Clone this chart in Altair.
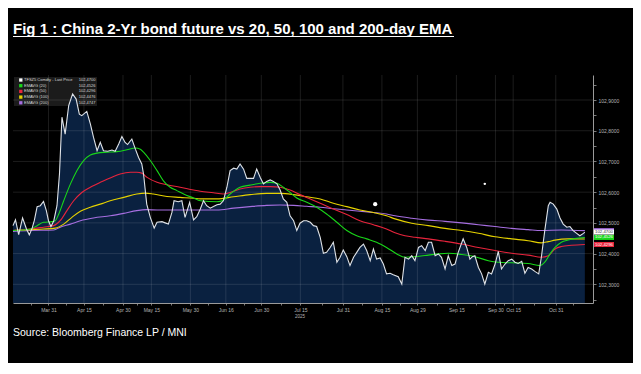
import altair as alt
import pandas as pd

# ---------------- data (x = trading-day index, 0 = 17 Mar 2025) ----------------
price_i = [0, 0.7, 1.6, 2.7, 3.8, 4.6, 5.4, 6.0, 6.8, 7.7, 8.6, 9.4, 10.0, 10.7, 11.5, 12.4,
           13.1, 13.8, 14.7, 15.7, 16.8, 17.8, 18.7, 19.4, 20.8, 21.8, 22.7, 23.7, 24.6, 25.5,
           26.7, 27.9, 28.8, 29.8, 30.7, 31.6, 32.3, 33.5, 34.5, 35.4, 36.3, 36.8, 37.7, 38.7,
           39.8, 40.6, 42.0, 42.9, 43.8, 44.8, 45.4, 46.6, 47.6, 48.5, 49.8, 50.9, 51.8,
           52.8, 53.7, 54.6, 55.6, 56.5, 57.5, 58.4, 59.3, 60.3, 61.2, 62.2, 63.1, 64.0, 65.0,
           65.9, 66.8, 67.8, 68.7, 69.7, 70.6, 71.5, 72.5, 73.4, 74.4, 75.3, 76.2, 77.2, 78.1,
           79.1, 80.0, 80.9, 81.9, 82.8, 83.8, 84.7, 85.6, 86.6, 87.5, 88.4, 89.4, 90.3, 91.3,
           92.2, 93.1, 94.1, 95.0, 96.0, 96.9, 97.8, 98.8, 99.7, 100.7, 101.6, 102.5, 103.5,
           104.4, 105.3, 106.3, 107.2,
           108.6, 109.6, 110.5, 111.5, 112.4, 113.3, 114.3, 115.2, 116.2, 117.1, 118.0, 119.0,
           119.9, 120.8, 121.8, 122.7, 123.7, 124.6, 125.5, 126.9, 127.9, 128.8, 129.5, 130.2,
           131.2, 132.1, 133.0, 134.0, 134.9, 135.9, 136.8, 137.7, 138.7, 139.6, 140.6, 141.5,
           142.4, 143.4, 144.3, 145.2, 146.2, 147.1, 148.2, 149.0, 149.9, 150.9, 151.4, 152.3,
           153.3, 154.2, 155.1, 156.1, 157.0, 157.9, 158.9, 159.8, 160.8, 161.2]
price_v = [102.491, 102.510, 102.462, 102.516, 102.480, 102.461, 102.483, 102.507, 102.553, 102.556, 102.570, 102.540, 102.507, 102.488, 102.507, 102.556,
           102.659, 102.844, 102.789, 102.882, 102.920, 102.903, 102.854, 102.849, 102.863, 102.822, 102.778, 102.735, 102.762, 102.735,
           102.733, 102.737, 102.733, 102.757, 102.781, 102.762, 102.755, 102.773, 102.740, 102.713, 102.692, 102.659, 102.561, 102.518,
           102.483, 102.502, 102.504, 102.500, 102.496, 102.534, 102.572, 102.569, 102.572, 102.518, 102.567, 102.510, 102.520,
           102.545, 102.572, 102.556, 102.548, 102.553, 102.559, 102.561, 102.572, 102.616, 102.670, 102.678, 102.675, 102.692, 102.675,
           102.645, 102.645, 102.645, 102.675, 102.648, 102.627, 102.635, 102.640, 102.635, 102.627, 102.607, 102.578, 102.567, 102.523,
           102.507, 102.475, 102.499, 102.507, 102.507, 102.502, 102.491, 102.488, 102.453, 102.401, 102.404, 102.420, 102.437, 102.372,
           102.388, 102.412, 102.390, 102.361, 102.388, 102.404, 102.420, 102.431, 102.410, 102.377, 102.415, 102.382, 102.386,
           102.366, 102.334, 102.336, 102.331,
           102.325, 102.301, 102.388, 102.382, 102.393, 102.377, 102.420, 102.426, 102.410, 102.437, 102.437, 102.393,
           102.399, 102.388, 102.350, 102.393, 102.361, 102.366, 102.404, 102.448, 102.420, 102.382, 102.390, 102.393,
           102.355, 102.334, 102.301, 102.339, 102.334, 102.366, 102.407, 102.350, 102.366, 102.377, 102.382, 102.372,
           102.368, 102.375, 102.336, 102.355, 102.350, 102.342, 102.334, 102.393, 102.475, 102.556, 102.567, 102.561,
           102.545, 102.516, 102.496, 102.486, 102.488, 102.475, 102.466, 102.458, 102.466, 102.470]

ema20_i = [0, 4.9, 6.8, 8.6, 11.0, 11.9, 12.9, 14.3, 16.2, 18.0, 19.9, 21.8, 23.7, 26.5, 29.3, 32.1, 34.5,
           35.9, 36.8, 38.7, 40.6, 42.4, 44.3, 46.2, 48.1, 50.9, 52.8, 57.5, 59.3, 61.2, 64.0, 66.8,
           69.7, 72.5, 74.4, 76.2, 78.1, 80.0, 82.8, 85.6, 88.4, 91.3, 94.1, 96.9, 99.7, 102.5, 105.3,
           108.2, 110.5, 113.3, 117.1, 119.9, 122.7, 126.5, 130.2, 134.0, 136.8, 140.6, 145.2, 148.5,
           149.9, 151.4, 152.8, 154.6, 156.5, 158.4, 161.2]
ema20_v = [102.475, 102.480, 102.491, 102.502, 102.504, 102.507, 102.529, 102.572, 102.627, 102.670, 102.703, 102.721, 102.727, 102.730, 102.732, 102.738, 102.744,
           102.740, 102.730, 102.703, 102.670, 102.637, 102.616, 102.605, 102.594, 102.581, 102.572, 102.569, 102.574, 102.594, 102.616, 102.623,
           102.629, 102.632, 102.629, 102.616, 102.599, 102.581, 102.567, 102.551, 102.529, 102.502, 102.475, 102.458, 102.448, 102.437, 102.420,
           102.399, 102.388, 102.390, 102.395, 102.399, 102.401, 102.397, 102.390, 102.377, 102.372, 102.370, 102.368, 102.361,
           102.372, 102.399, 102.420, 102.437, 102.444, 102.449, 102.4526]

ema50_i = [0, 4.9, 8.6, 11.5, 13.3, 15.2, 17.1, 19.4, 21.8, 24.6, 27.4, 30.2, 33.1, 34.9, 36.3, 37.8,
           40.6, 43.4, 47.1, 50.9, 52.8, 56.5, 59.3, 61.2, 64.0, 66.8, 69.7, 72.5, 75.3, 78.1, 80.9,
           83.8, 86.6, 90.3, 94.1, 97.8, 101.6, 105.3, 107.7, 110.5, 113.3, 117.1, 121.8, 126.5, 131.2,
           135.9, 140.6, 145.2, 149.0, 150.9, 152.8, 154.6, 157.4, 161.2]
ema50_v = [102.475, 102.480, 102.486, 102.491, 102.507, 102.540, 102.572, 102.599, 102.616, 102.632, 102.646, 102.659, 102.665, 102.665, 102.662, 102.648,
           102.632, 102.624, 102.616, 102.607, 102.603, 102.598, 102.594, 102.599, 102.610, 102.616, 102.618, 102.618, 102.616, 102.607, 102.592,
           102.578, 102.564, 102.545, 102.527, 102.507, 102.494, 102.480, 102.468, 102.458, 102.453, 102.448, 102.440, 102.431, 102.420,
           102.410, 102.401, 102.395, 102.388, 102.393, 102.415, 102.423, 102.427, 102.4296]

ema100_i = [0, 4.9, 8.6, 11.9, 14.3, 16.6, 19.0, 21.8, 24.6, 27.4, 31.2, 34.9, 37.3, 39.6, 43.4, 47.1,
            50.9, 52.8, 57.5, 62.2, 66.8, 71.5, 75.3, 79.1, 82.8, 86.6, 90.3, 94.1, 97.8, 101.6, 105.3,
            107.7, 112.4, 117.1, 121.8, 126.5, 131.2, 135.9, 140.6, 145.2, 149.0, 150.9, 152.8, 156.5, 161.2]
ema100_v = [102.475, 102.478, 102.480, 102.483, 102.496, 102.518, 102.538, 102.551, 102.561, 102.572, 102.583, 102.594, 102.597, 102.594, 102.586, 102.583,
            102.580, 102.578, 102.578, 102.585, 102.592, 102.596, 102.596, 102.592, 102.585, 102.578, 102.564, 102.553, 102.542, 102.534, 102.523,
            102.513, 102.499, 102.491, 102.482, 102.475, 102.466, 102.455, 102.448, 102.442, 102.435, 102.439, 102.444, 102.448, 102.4476]

ema200_i = [0, 4.9, 11.5, 13.3, 16.2, 19.0, 22.7, 27.4, 31.2, 34.9, 37.7, 40.6, 46.2, 52.8, 57.5,
            62.2, 66.8, 71.5, 75.3, 79.1, 82.8, 86.6, 90.3, 94.1, 97.8, 101.6, 105.3, 107.7, 112.4,
            117.1, 121.8, 126.5, 131.2, 135.9, 140.6, 145.2, 149.0, 154.6, 161.2]
ema200_v = [102.472, 102.475, 102.477, 102.486, 102.496, 102.507, 102.516, 102.523, 102.531, 102.540, 102.543, 102.542, 102.542, 102.542, 102.542,
            102.548, 102.553, 102.557, 102.558, 102.557, 102.554, 102.551, 102.546, 102.542, 102.538, 102.534, 102.529, 102.523, 102.515,
            102.509, 102.505, 102.500, 102.494, 102.488, 102.482, 102.478, 102.475, 102.477, 102.4747]

tick_idx = [10, 20, 31, 39, 50, 60, 70, 81, 93, 104, 114, 125, 136, 141, 153]
tick_lab = ["Mar 31", "Apr 15", "Apr 30", "May 15", "May 30", "Jun 16", "Jun 30", "Jul 15",
            "Jul 31", "Aug 15", "Aug 29", "Sep 15", "Sep 30", "Oct 15", "Oct 31"]
minor_idx = [5, 15, 25.5, 35, 44.5, 55, 65, 75.5, 87, 98.5, 109, 119.5, 130.5, 138.5, 147, 158]
y_grid = [102.3, 102.4, 102.5, 102.6, 102.7, 102.8, 102.9]
y_ticks = [round(102.25 + 0.05 * k, 2) for k in range(15)]

leg_names = ["TFSZ5 Comdty - Last Price", "EMAVG (20)", "EMAVG (50)", "EMAVG (100)", "EMAVG (200)"]
leg_vals = [102.4700, 102.4526, 102.4296, 102.4476, 102.4747]
leg_cols = ["#ffffff", "#19d619", "#e8243c", "#e6d200", "#a66ee0"]

tag_vals = [102.4747, 102.4700, 102.4526, 102.4296]
tag_fill = ["#a66ee0", "#ffffff", "#19d619", "#e8243c"]
tag_txt = ["#ffffff", "#333333", "#ffffff", "#ffffff"]

dots_i = [102.1, 133.0]
dots_v = [102.561, 102.627]
dots_s = [18, 6]

# ---------------- scales / layout ----------------
W, H = 580, 228
Y_MIN, Y_MAX = 102.2392, 102.9814
xs = alt.Scale(domain=[0, 163.5], nice=False, zero=False)
ys = alt.Scale(domain=[Y_MIN, Y_MAX], nice=False, zero=False)
FONT = "Liberation Sans"
NAVY = "#0a2140"

price_df = pd.DataFrame({"i": price_i, "v": price_v})
ema_rows = []
for name, xi, vv in [("EMAVG (200)", ema200_i, ema200_v), ("EMAVG (100)", ema100_i, ema100_v),
                     ("EMAVG (50)", ema50_i, ema50_v), ("EMAVG (20)", ema20_i, ema20_v)]:
    for a, b in zip(xi, vv):
        ema_rows.append({"s": name, "i": a, "v": b})
ema_df = pd.DataFrame(ema_rows)

lab_expr = "indexof(%s, datum.value) >= 0 ? %s[indexof(%s, datum.value)] : ''" % (
    str(tick_idx), str(tick_lab).replace("'", '"'), str(tick_idx))
ylab_expr = "round(datum.value*100) % 10 == 0 ? replace(format(datum.value, '.4f'), '.', ',') : ''"

# legend box (beneath data)
leg_box = alt.Chart(pd.DataFrame({"a": [0]})).mark_rect(fill="#1e1e1e", opacity=0.9).encode(
    x=alt.value(1), x2=alt.value(84), y=alt.value(2), y2=alt.value(31))

# area under price
area = alt.Chart(price_df).mark_area(color=NAVY, opacity=1, interpolate="linear").encode(
    x=alt.X("i:Q", scale=xs, axis=alt.Axis(
        values=tick_idx + minor_idx, labelExpr=lab_expr, grid=False, orient="bottom",
        domainColor="#9a9a9a", domainWidth=1, tickColor="#9a9a9a", tickSize=2, tickWidth=0.8,
        labelColor="#b4b4b4", labelFont=FONT, labelFontSize=5, labelPadding=2, title=None,
        labelOverlap=False, labelFlush=False)),
    y=alt.Y("v:Q", scale=ys, axis=alt.Axis(
        values=y_ticks, labelExpr=ylab_expr, grid=False, orient="right",
        domainColor="#9a9a9a", domainWidth=1, tickColor="#9a9a9a", tickSize=3, tickWidth=0.8,
        labelColor="#b4b4b4", labelFont=FONT, labelFontSize=5, labelPadding=2, title=None,
        labelOverlap=False, labelFlush=False)),
    y2=alt.datum(Y_MIN))

vgrid = alt.Chart(pd.DataFrame({"t": tick_idx})).mark_rule(color="#ffffff", opacity=0.14, strokeWidth=0.8).encode(
    x=alt.X("t:Q", scale=xs, axis=None), y=alt.value(0), y2=alt.value(H))
hgrid = alt.Chart(pd.DataFrame({"g": y_grid})).mark_rule(color="#ffffff", opacity=0.14, strokeWidth=0.8).encode(
    y=alt.Y("g:Q", scale=ys, axis=None), x=alt.value(0), x2=alt.value(W))

emas = alt.Chart(ema_df).mark_line(strokeWidth=1.1, interpolate="monotone").encode(
    x=alt.X("i:Q", scale=xs, axis=None),
    y=alt.Y("v:Q", scale=ys, axis=None),
    color=alt.Color("s:N", scale=alt.Scale(domain=leg_names[1:], range=leg_cols[1:]), legend=None),
    detail="s:N")

pline = alt.Chart(price_df).mark_line(color="#dfe3e8", strokeWidth=1.1).encode(
    x=alt.X("i:Q", scale=xs, axis=None), y=alt.Y("v:Q", scale=ys, axis=None))

dots = alt.Chart(pd.DataFrame({"i": dots_i, "v": dots_v, "s": dots_s})).mark_circle(color="white", opacity=1).encode(
    x=alt.X("i:Q", scale=xs, axis=None), y=alt.Y("v:Q", scale=ys, axis=None),
    size=alt.Size("s:Q", scale=None, legend=None))

# legend content
leg_df = pd.DataFrame({"n": leg_names, "val": leg_vals, "c": leg_cols, "r": list(range(5))})
leg_sq = alt.Chart(leg_df).transform_calculate(py="5 + datum.r*5.7").mark_square(size=11, opacity=1).encode(
    x=alt.value(7.8), y=alt.Y("py:Q", scale=None, axis=None), color=alt.Color("c:N", scale=None, legend=None))
leg_tx = alt.Chart(leg_df).transform_calculate(py="5 + datum.r*5.7").mark_text(
    align="left", baseline="middle", font=FONT, fontSize=4.0, color="#d8d8d8").encode(
    x=alt.value(11), y=alt.Y("py:Q", scale=None, axis=None), text="n:N")
leg_vx = alt.Chart(leg_df).transform_calculate(py="5 + datum.r*5.7",
                                              lab="replace(format(datum.val, '.4f'), '.', ',')").mark_text(
    align="right", baseline="middle", font=FONT, fontSize=4.0, color="#d8d8d8").encode(
    x=alt.value(82.5), y=alt.Y("py:Q", scale=None, axis=None), text="lab:N")

# last-value tags on the right axis
tag_df = pd.DataFrame({"v": tag_vals, "f": tag_fill, "tc": tag_txt})
tags = alt.Chart(tag_df).transform_calculate(
    hi="datum.v + 0.0082", lo="datum.v - 0.0082").mark_rect(opacity=1).encode(
    x=alt.value(W + 1), x2=alt.value(W + 21),
    y=alt.Y("hi:Q", scale=ys, axis=None), y2="lo:Q",
    fill=alt.Color("f:N", scale=None, legend=None))
tag_t = alt.Chart(tag_df.iloc[1:]).transform_calculate(
    lab="replace(format(datum.v, '.4f'), '.', ',')").mark_text(
    align="center", baseline="middle", font=FONT, fontSize=4.3).encode(
    x=alt.value(W + 11), y=alt.Y("v:Q", scale=ys, axis=None), text="lab:N",
    color=alt.Color("tc:N", scale=None, legend=None))

# title, underline, year label, footer
title = alt.Chart(pd.DataFrame({"t": ["Fig 1 :  China 2-Yr  bond future vs 20, 50, 100 and 200-day EMA"]})).mark_text(
    align="left", baseline="alphabetic", font=FONT, fontSize=15, fontWeight="bold", color="white").encode(
    x=alt.value(0), y=alt.value(-41.5), text="t:N")
uline = alt.Chart(pd.DataFrame({"a": [0]})).mark_rule(color="white", strokeWidth=1).encode(
    x=alt.value(0), x2=alt.value(441), y=alt.value(-38.5))
year = alt.Chart(pd.DataFrame({"t": ["2025"]})).mark_text(
    align="center", baseline="middle", font=FONT, fontSize=4.5, color="#b4b4b4").encode(
    x=alt.value(287), y=alt.value(241.5), text="t:N")
footer = alt.Chart(pd.DataFrame({"t": ["Source: Bloomberg Finance LP / MNI"]})).mark_text(
    align="left", baseline="middle", font=FONT, fontSize=10.5, color="white").encode(
    x=alt.value(0), y=alt.value(258), text="t:N")

chart = alt.layer(
    leg_box, area, vgrid, hgrid, emas, pline, dots, leg_sq, leg_tx, leg_vx, tags, tag_t,
    title, uline, year, footer
).resolve_scale(x="independent", y="independent", color="independent", fill="independent", size="independent").properties(
    width=W, height=H, background="black",
    padding={"left": 5, "top": 67, "right": 40, "bottom": 60},
    autosize=alt.AutoSizeParams(type="none")
).configure_view(stroke=None)

chart.save("out.html", embed_options={"renderer": "svg", "actions": False})
